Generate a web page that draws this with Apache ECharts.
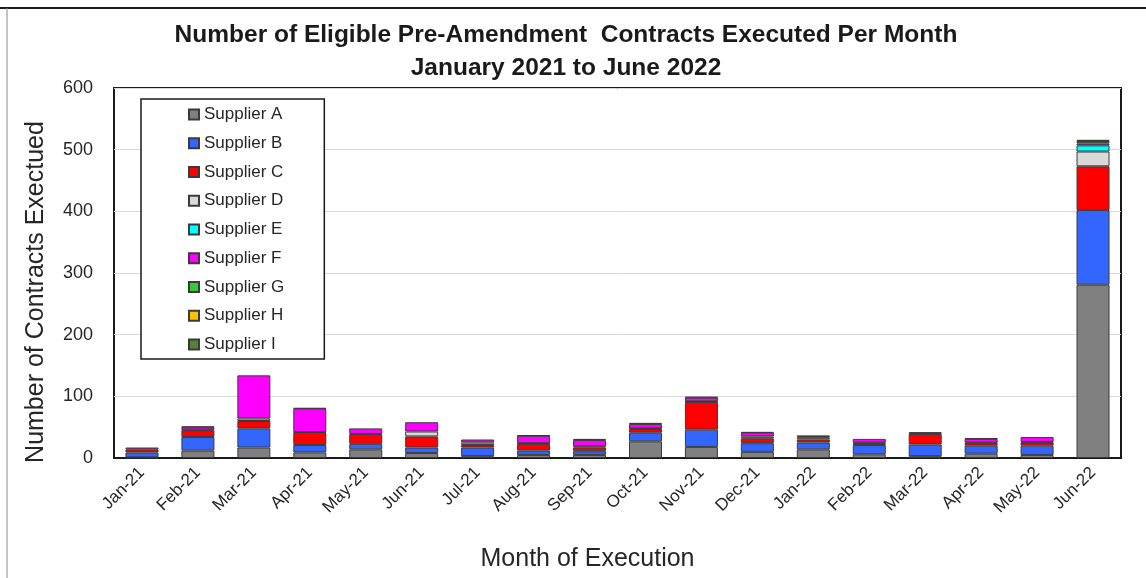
<!DOCTYPE html>
<html>
<head>
<meta charset="utf-8">
<script src="https://cdn.jsdelivr.net/npm/echarts@6/dist/echarts.min.js"></script>
<style>
  html, body { margin: 0; padding: 0; background: #fff; }
  #chart { width: 1146px; height: 578px; }
</style>
</head>
<body>
<div id="chart"></div>
<script>
// 月份
var months = ['Jan-21', 'Feb-21', 'Mar-21', 'Apr-21', 'May-21', 'Jun-21', 'Jul-21', 'Aug-21', 'Sep-21',
    'Oct-21', 'Nov-21', 'Dec-21', 'Jan-22', 'Feb-22', 'Mar-22', 'Apr-22', 'May-22', 'Jun-22'];

// 各供应商每月合同数
var supplierA = [1, 12, 17, 9, 14, 8, 3, 5, 5, 27, 18, 10, 14, 6, 3, 7, 5, 281];
var supplierB = [8, 22, 31, 12, 9, 9, 14, 7, 6, 14, 28, 14, 11, 15, 19, 13, 15, 121];
var supplierC = [5, 11, 12, 20, 16, 18, 4, 11, 6, 6, 45, 8, 5, 3, 17, 4, 5, 71];
var supplierD = [0, 1, 4, 1, 0, 8, 4, 1, 2, 1, 1, 3, 3, 1, 0, 1, 1, 24];
var supplierE = [0, 0, 0, 0, 0, 0, 0, 0, 0, 0, 0, 0, 0, 0, 0, 0, 0, 10];
var supplierF = [3, 4, 70, 38, 9, 15, 5, 12, 10, 7, 6, 6, 2, 6, 3, 6, 8, 3];
var supplierG = [0, 0, 0, 0, 0, 0, 0, 0, 0, 0, 0, 0, 0, 0, 0, 0, 0, 3];
var supplierH = [0, 0, 0, 0, 0, 0, 0, 0, 0, 0, 0, 0, 0, 0, 0, 0, 0, 1];
var supplierI = [0, 1, 0, 1, 0, 0, 0, 1, 2, 2, 1, 1, 1, 0, 0, 1, 0, 2];

// y轴刻度
var yTicks = [0, 100, 200, 300, 400, 500, 600];

var suppliers = [
    { name: 'Supplier A', data: supplierA, color: '#808080' },
    { name: 'Supplier B', data: supplierB, color: '#3366FF' },
    { name: 'Supplier C', data: supplierC, color: '#FF0000' },
    { name: 'Supplier D', data: supplierD, color: '#D9D9D9' },
    { name: 'Supplier E', data: supplierE, color: '#00FFFF' },
    { name: 'Supplier F', data: supplierF, color: '#FF00FF' },
    { name: 'Supplier G', data: supplierG, color: '#33CC33' },
    { name: 'Supplier H', data: supplierH, color: '#FFC000' },
    { name: 'Supplier I', data: supplierI, color: '#548235' }
];

function chartRender() {
    var chart = echarts.init(document.getElementById('chart'));

    var series = suppliers.map(function (s) {
        return {
            name: s.name,
            type: 'bar',
            stack: 'total',
            barWidth: 33,
            // 0 值不画，避免出现多余的边框线
            data: s.data.map(function (v) { return v === 0 ? '-' : v; }),
            itemStyle: {
                color: s.color,
                borderColor: '#3a3a3a',
                borderWidth: 1
            }
        };
    });

    var option = {
        animation: false,
        backgroundColor: '#fff',
        textStyle: { fontFamily: 'Liberation Sans, Arial, sans-serif' },
        graphic: [
            // 外框
            { type: 'line', shape: { x1: 0, y1: 8, x2: 1146, y2: 8 }, style: { stroke: '#1a1a1a', lineWidth: 2 } },
            { type: 'line', shape: { x1: 7, y1: 8, x2: 7, y2: 578 }, style: { stroke: '#8c8c8c', lineWidth: 1 } },
            // 标题
            {
                type: 'text', x: 566, y: 35,
                style: {
                    text: 'Number of Eligible Pre-Amendment  Contracts Executed Per Month',
                    x: 0, y: 0, textAlign: 'center', textVerticalAlign: 'middle',
                    font: 'bold 24.5px "Liberation Sans", Arial, sans-serif', fill: '#1a1a1a'
                }
            },
            {
                type: 'text', x: 566, y: 68,
                style: {
                    text: 'January 2021 to June 2022',
                    x: 0, y: 0, textAlign: 'center', textVerticalAlign: 'middle',
                    font: 'bold 24.5px "Liberation Sans", Arial, sans-serif', fill: '#1a1a1a'
                }
            }
        ],
        legend: {
            orient: 'vertical',
            left: 141,
            top: 99,
            align: 'left',
            itemWidth: 10,
            itemHeight: 10,
            itemGap: 11.75,
            padding: [7, 40, 6, 47],
            backgroundColor: '#fff',
            borderColor: '#1a1a1a',
            borderWidth: 1.5,
            textStyle: { fontSize: 17, color: '#262626' },
            data: suppliers.map(function (s) { return { name: s.name, icon: 'rect' }; })
        },
        grid: {
            left: 114,
            right: 25,
            top: 88,
            bottom: 120,
            show: true,
            borderColor: '#1a1a1a',
            borderWidth: 2,
            backgroundColor: 'transparent'
        },
        xAxis: {
            type: 'category',
            data: months,
            name: 'Month of Execution',
            nameLocation: 'middle',
            nameGap: 89,
            nameTextStyle: { fontSize: 25, color: '#262626', padding: [0, 60, 0, 0] },
            axisTick: { show: false },
            axisLine: { lineStyle: { color: '#1a1a1a', width: 2 } },
            axisLabel: {
                rotate: 45,
                interval: 0,
                margin: 12,
                fontSize: 17,
                color: '#262626'
            }
        },
        yAxis: {
            type: 'value',
            min: yTicks[0],
            max: yTicks[yTicks.length - 1],
            interval: 100,
            name: 'Number of Contracts Exectued',
            nameLocation: 'middle',
            nameGap: 65,
            nameTextStyle: { fontSize: 25, color: '#262626', padding: [0, 38, 0, 0] },
            axisLine: { show: false },
            axisTick: { show: false },
            axisLabel: { fontSize: 18, color: '#262626', margin: 21 },
            splitLine: { lineStyle: { color: '#d9d9d9', width: 1 } }
        },
        series: series
    };

    chart.setOption(option);
}

chartRender();
</script>
</body>
</html>
